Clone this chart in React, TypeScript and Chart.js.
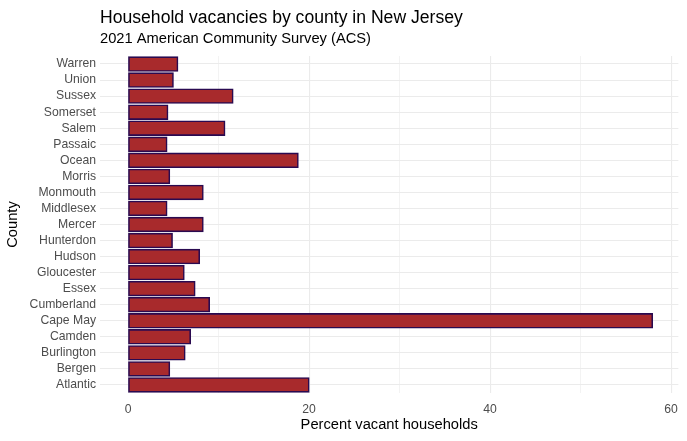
import React, { useEffect, useRef } from "react";
import { Chart, registerables } from "chart.js";

Chart.register(...registerables);

const counties = [
  "Warren", "Union", "Sussex", "Somerset", "Salem", "Passaic", "Ocean",
  "Morris", "Monmouth", "Middlesex", "Mercer", "Hunterdon", "Hudson",
  "Gloucester", "Essex", "Cumberland", "Cape May", "Camden", "Burlington",
  "Bergen", "Atlantic",
];
const vacancyPct = [
  5.5, 5.0, 11.6, 4.4, 10.7, 4.3, 18.8,
  4.6, 8.3, 4.3, 8.3, 4.9, 7.9,
  6.2, 7.4, 9.0, 57.95, 6.9, 6.3,
  4.6, 20.0,
];
const xTickValues = [0, 10, 20, 30, 40, 50, 60];
const xLabeledTicks = [0, 20, 40, 60];

const titleText = "Household vacancies by county in New Jersey";
const subtitleText = "2021 American Community Survey (ACS)";
const xTitle = "Percent vacant households";
const yTitle = "County";

const FONT = "'Liberation Sans', Arial, sans-serif";

export default function App() {
  const ref = useRef<HTMLCanvasElement | null>(null);

  useEffect(() => {
    document.body.style.margin = "0";
    const canvas = ref.current;
    if (!canvas) return;

    const titlePlugin = {
      id: "ggTitles",
      afterDraw(chart: any) {
        const { ctx, chartArea } = chart;
        ctx.save();
        ctx.fillStyle = "#000000";
        ctx.textAlign = "left";
        ctx.textBaseline = "alphabetic";
        ctx.font = `17.6px ${FONT}`;
        ctx.fillText(titleText, chartArea.left, 22.7);
        ctx.font = `14.7px ${FONT}`;
        ctx.fillText(subtitleText, chartArea.left, 43.3);
        ctx.restore();
      },
    };

    const chart = new Chart(canvas, {
      type: "bar",
      data: {
        labels: counties,
        datasets: [
          {
            data: vacancyPct,
            backgroundColor: "#A82A2C",
            borderColor: "#2a0a50",
            borderWidth: 1.6,
            borderSkipped: false,
            inflateAmount: 0.5,
            barPercentage: 0.9,
            categoryPercentage: 1,
          },
        ],
      },
      options: {
        indexAxis: "y",
        responsive: false,
        animation: false,
        maintainAspectRatio: false,
        layout: { padding: { top: 56, right: 8, bottom: 0, left: 0 } },
        plugins: {
          legend: { display: false },
          tooltip: { enabled: false },
          title: { display: false },
        },
        scales: {
          x: {
            type: "linear",
            min: -3.1,
            max: 60.8,
            border: { display: false },
            grid: {
              color: "#ebebeb",
              lineWidth: (c: any) =>
                c.tick && xLabeledTicks.includes(c.tick.value) ? 1.1 : 0.6,
              drawTicks: false,
            },
            afterBuildTicks: (scale: any) => {
              scale.ticks = xTickValues.map((v) => ({ value: v }));
            },
            afterFit: (scale: any) => {
              scale.height = 48;
            },
            ticks: {
              autoSkip: false,
              maxRotation: 0,
              padding: 9,
              color: "#4d4d4d",
              font: { family: FONT, size: 12.2 },
              callback: (v: any) =>
                xLabeledTicks.includes(Number(v)) ? String(v) : "",
            },
            title: {
              display: true,
              text: xTitle,
              color: "#000000",
              font: { family: FONT, size: 14.7 },
              padding: { top: 0, bottom: 7.6 },
            },
          },
          y: {
            type: "category",
            offset: true,
            border: { display: false },
            grid: {
              color: "#ebebeb",
              lineWidth: 1.1,
              offset: false,
              drawTicks: false,
            },
            afterFit: (scale: any) => {
              scale.width = 100;
            },
            ticks: {
              autoSkip: false,
              padding: 4,
              color: "#4d4d4d",
              font: { family: FONT, size: 12.2 },
            },
            title: {
              display: true,
              text: yTitle,
              color: "#000000",
              font: { family: FONT, size: 14.7 },
              padding: { top: 4.5, bottom: 0 },
            },
          },
        },
      },
      plugins: [titlePlugin],
    } as any);

    return () => chart.destroy();
  }, []);

  return <canvas ref={ref} width={687} height={441} style={{ display: "block" }} />;
}
